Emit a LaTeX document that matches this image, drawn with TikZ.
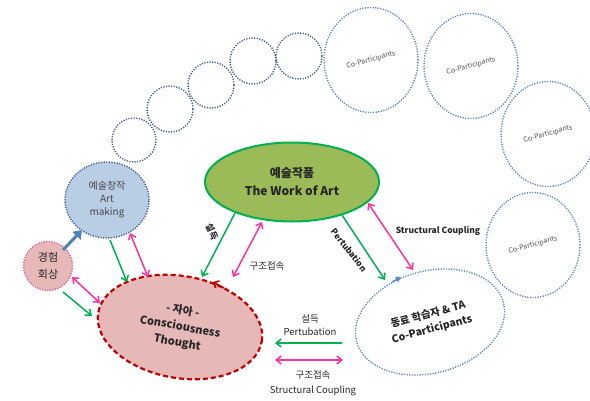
\documentclass[tikz,border=0pt]{standalone}
\usepackage{fontspec}
\setmainfont{Noto Sans CJK KR}
\usetikzlibrary{shapes.geometric,arrows.meta,calc}
\definecolor{navyd}{HTML}{3F5F8C}
\definecolor{blueL}{HTML}{5B86C5}
\definecolor{artfill}{HTML}{B9CDE5}
\definecolor{pinkfill}{HTML}{E6B9B8}
\definecolor{pinkdot}{HTML}{E0608F}
\definecolor{redD}{HTML}{C00000}
\definecolor{olive}{HTML}{9BBB59}
\definecolor{greenA}{HTML}{00B050}
\definecolor{pinkA}{HTML}{FF3399}
\definecolor{blueA}{HTML}{4F81BD}
\definecolor{txt}{HTML}{262626}
\begin{document}
\begin{tikzpicture}[x=1pt,y=-1pt,
  dotline/.style={line width=1.4pt, dash pattern=on 1.2pt off 1.4pt},
  smallc/.style={circle, draw=navyd, dotline, minimum size=46pt, inner sep=0pt},
  bigc/.style={ellipse, draw=blueL, dotline, minimum width=94pt, minimum height=105pt, inner sep=0pt,
    font=\fontsize{7}{8}\selectfont, text=txt!80},
  garrow/.style={greenA, line width=1.5pt, -{Straight Barb[length=5pt,width=8pt]}},
  parrow/.style={pinkA, line width=1.5pt, {Straight Barb[length=5pt,width=8pt]}-{Straight Barb[length=5pt,width=8pt]}},
  lbl/.style={text=txt, inner sep=0pt, align=center}
]
\useasboundingbox (0,0) rectangle (590,400);

% small circles
\node[smallc, minimum size=44pt] (c1) at (134,140) {};
\node[smallc] (c2) at (170,109) {};
\node[smallc] (c3) at (211,85) {};
\node[smallc] (c4) at (253,61) {};
\node[smallc] (c5) at (299,56) {};

% large circles
\node[bigc] (l1) at (371,60) {\rotatebox{15}{Co-Participants}};
\node[bigc] (l2) at (471,66) {\rotatebox{15}{Co-Participants}};
\node[bigc] (l3) at (548,134) {\rotatebox{15}{Co-Participants}};
\node[bigc] (l4) at (533,245) {\rotatebox{15}{Co-Participants}};

% main nodes
\node[ellipse, draw=navyd, dotline, fill=artfill, minimum width=84pt, minimum height=76pt, inner sep=0pt,
  align=center, text=txt!85, font=\fontsize{10}{13}\selectfont] (art) at (107,200) {예술창작\\Art\\making};
\node[circle, draw=pinkdot, dotline, fill=pinkfill, minimum size=49pt, inner sep=0pt,
  align=center, text=txt, font=\fontsize{11}{17}\selectfont] (exp) at (48,266) {경험\\회상};
\node[ellipse, draw=redD, line width=2.2pt, dash pattern=on 5pt off 3pt, fill=pinkfill,
  minimum width=166pt, minimum height=102pt, inner sep=0pt, rotate=-10,
  align=center, text=txt, font=\bfseries\fontsize{11}{16}\selectfont] (self) at (180,327) {- 자아 -\\Consciousness\\Thought};
\node[ellipse, draw=greenA, line width=2pt, fill=olive, minimum width=174pt, minimum height=79pt, inner sep=0pt,
  align=center, text=txt, font=\bfseries\fontsize{12}{18}\selectfont] (work) at (292,182) {예술작품\\The Work of Art};
\node[ellipse, draw=blueL, dotline, minimum width=152pt, minimum height=102pt, inner sep=0pt, rotate=15,
  align=center, text=txt, font=\bfseries\fontsize{10.5}{15}\selectfont] (cop) at (430,322) {동료 학습자 \& TA\\Co-Participants};

% arrow marks on ellipse borders
\draw[redD, line width=1.6pt, -{Straight Barb[length=4pt,width=8pt]}] (224,288) -- (213,282);
\draw[blueL, line width=1.4pt, -{Triangle[length=5pt,width=6pt]}] (392,282) -- (401,277);

% connectors
\draw[blueA, line width=3pt, -{Triangle[length=8pt,width=11pt]}] ($(exp.center)+(15,-16)$) -- ($(art.center)+(-25,30)$);
\draw[garrow] ($(art.center)+(3,40)$) -- ($(self.center)+(-53,-45)$);
\draw[parrow] ($(art.center)+(23,33)$) -- ($(self.center)+(-32,-50)$);
\draw[parrow] ($(exp.center)+(24,11)$) -- ($(self.center)+(-80,-24)$);
\draw[garrow] ($(exp.center)+(15,26)$) -- ($(self.center)+(-88,-11)$);
\draw[garrow] ($(work.center)+(-57,31)$) -- ($(self.center)+(22,-50)$);
\draw[parrow] ($(self.center)+(53,-50)$) -- ($(work.center)+(-30,40)$);
\draw[garrow] ($(work.center)+(50,33)$) -- ($(cop.center)+(-45,-42)$);
\draw[parrow] ($(cop.center)+(-17,-52)$) -- ($(work.center)+(76,21)$);

% connector labels
\node[lbl, rotate=-65, font=\bfseries\fontsize{9}{10}\selectfont] (t1) at (212,232) {설득};
\node[lbl, font=\fontsize{9.5}{11}\selectfont] (t2) at (267,266) {구조접속};
\node[lbl, rotate=-52, font=\bfseries\fontsize{8.5}{10}\selectfont] (t3) at (349,250) {Pertubation};
\node[lbl, font=\bfseries\fontsize{8.5}{10}\selectfont] (t4) at (438,231) {Structural Coupling};

% legend
\node[lbl, font=\fontsize{9.5}{13}\selectfont] (leg1) at (310,325) {설득\\Pertubation};
\node[lbl, font=\fontsize{9.5}{15}\selectfont] (leg2) at (313,383) {구조접속\\Structural Coupling};
\coordinate (g1) at (342,343);
\coordinate (g2) at (275,343);
\coordinate (p1) at (275,360);
\coordinate (p2) at (343,360);
\draw[garrow] (g1) -- (g2);
\draw[parrow] (p1) -- (p2);
\end{tikzpicture}
\end{document}
